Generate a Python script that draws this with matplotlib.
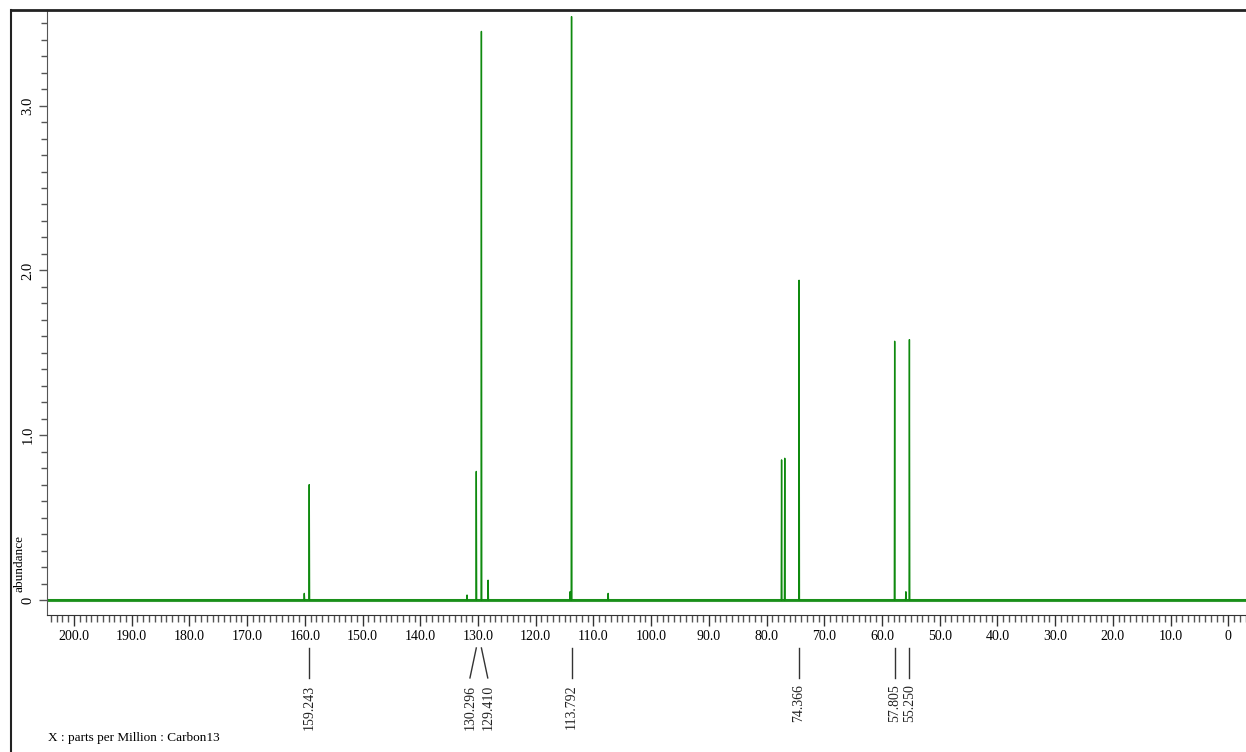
import numpy as np
import matplotlib
matplotlib.use("Agg")
import matplotlib.pyplot as plt
from matplotlib.lines import Line2D
from matplotlib.ticker import MultipleLocator
from matplotlib.transforms import blended_transform_factory

plt.rcParams['font.family'] = ['Liberation Serif', 'DejaVu Serif']

# picos del espectro (ppm, altura)
peak_ppm = [160.1, 159.243, 131.9, 130.296, 129.410, 128.25, 114.05, 113.792,
            107.45, 77.4, 76.85, 74.366, 57.805, 55.86, 55.250]
peak_hgt = [0.04, 0.70, 0.03, 0.78, 3.45, 0.12, 0.05, 3.54,
            0.04, 0.85, 0.86, 1.94, 1.57, 0.05, 1.58]

# etiquetas de picos
label_ppm = [159.243, 130.296, 129.410, 113.792, 74.366, 57.805, 55.250]

xticks = [200, 190, 180, 170, 160, 150, 140, 130, 120, 110, 100,
          90, 80, 70, 60, 50, 40, 30, 20, 10, 0]
xtick_labels = ["200.0", "190.0", "180.0", "170.0", "160.0", "150.0", "140.0",
                "130.0", "120.0", "110.0", "100.0", "90.0", "80.0", "70.0",
                "60.0", "50.0", "40.0", "30.0", "20.0", "10.0", "0"]
yticks = [0, 1, 2, 3]
ytick_labels = ["0", "1.0", "2.0", "3.0"]

x_lo, x_hi = 204.68, -3.07

# trazo: linea base con picos finos
w = 0.06
xs = [x_lo]
ys = [0.0]
for p, h in sorted(zip(peak_ppm, peak_hgt), reverse=True):
    xs += [p + w, p, p - w]
    ys += [0.0, h, 0.0]
xs.append(x_hi)
ys.append(0.0)

W, H = 1246, 752
fig = plt.figure(figsize=(W / 100, H / 100), dpi=100)
ax = fig.add_axes([47 / W, (H - 615) / H, 1 - 47 / W, 605 / H])

green = "#0f8a0f"
ax.axhline(0, color=green, lw=2.2, alpha=0.85, zorder=1)
ax.plot(xs, ys, color=green, lw=1.0, zorder=2)

ax.set_xlim(x_lo, x_hi)
ax.set_ylim(-0.091, 3.58)

for s in ["top", "right"]:
    ax.spines[s].set_visible(False)
ax.spines["left"].set_color("#555555")
ax.spines["bottom"].set_color("#333333")

ax.set_xticks(xticks)
ax.set_xticklabels(xtick_labels, fontsize=10)
ax.xaxis.set_minor_locator(MultipleLocator(1))
ax.tick_params(axis="x", which="major", length=8, width=1, pad=3, color="#333333")
ax.tick_params(axis="x", which="minor", length=5, width=1, color="#555555")

ax.set_yticks(yticks)
ax.set_yticklabels(ytick_labels, fontsize=10.5, rotation=90, va="center")
ax.yaxis.set_minor_locator(MultipleLocator(0.1))
ax.tick_params(axis="y", which="major", length=6, width=1, pad=3, color="#555555")
ax.tick_params(axis="y", which="minor", length=4, width=1, color="#555555")

# etiquetas de picos debajo del eje
tr = blended_transform_factory(ax.transData, ax.transAxes)
y_top, y_bot, y_txt = -0.0545, -0.104, -0.115
spread = 1.1
pos = list(label_ppm)
for i in range(len(pos) - 1):
    if label_ppm[i] - label_ppm[i + 1] < 2.0:
        pos[i] = label_ppm[i] + spread
        pos[i + 1] = label_ppm[i + 1] - spread
for p, q in zip(label_ppm, pos):
    ax.plot([p, q], [y_top, y_bot], color="#333333", lw=1, transform=tr, clip_on=False)
    ax.text(q, y_txt, f"{p:.3f}", rotation=90, ha="center", va="top",
            fontsize=10, transform=tr, color="#222222")

# marco de la figura
fig.add_artist(Line2D([11 / W, 1], [1 - 10 / H, 1 - 10 / H], color="#222222", lw=2,
                      transform=fig.transFigure))
fig.add_artist(Line2D([11 / W, 11 / W], [0, 1 - 10 / H], color="#222222", lw=1.5,
                      transform=fig.transFigure))

fig.text(20 / W, 1 - 592 / H, "abundance", rotation=90, ha="center", va="bottom",
         fontsize=9.5)
fig.text(48 / W, 1 - 738 / H, "X : parts per Million : Carbon13", ha="left",
         va="center", fontsize=9.5)

fig.savefig("out.png", dpi=100)
